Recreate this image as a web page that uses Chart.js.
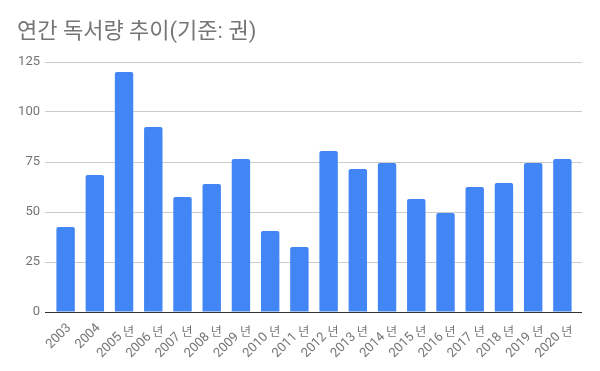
<!DOCTYPE html>
<html>
<head>
<meta charset="utf-8">
<script src="https://cdn.jsdelivr.net/npm/chart.js@4"></script>
<style>
  body { margin: 0; background: #fff; }
</style>
</head>
<body>
<canvas id="readingChart" width="600" height="371"></canvas>
<script>
const years = ["2003", "2004", "2005", "2006", "2007", "2008", "2009", "2010", "2011",
  "2012", "2013", "2014", "2015", "2016", "2017", "2018", "2019", "2020"];
// the year suffix "년" is only shown from 2005 on
const suffixes = ["", "", "년", "년", "년", "년", "년", "년", "년",
  "년", "년", "년", "년", "년", "년", "년", "년", "년"];
const books = [42.5, 68.5, 120, 92.5, 57.5, 64, 76.5, 40.5, 32.5, 80.5, 71.5, 74.5, 56.5, 49.5, 62.5, 64.5, 74.5, 76.5];
const yTicks = [0, 25, 50, 75, 100, 125];

const fontFamily = "Roboto, 'Noto Sans CJK KR', sans-serif";
const textColor = "#757575";
const gridColor = (c) => (c.tick && c.tick.value === 0 ? "#333333" : "#cccccc");

// rotated year labels with an upright "년", like the original
const yearLabels = {
  id: "yearLabels",
  afterDraw(chart) {
    const x = chart.scales.x;
    const c = chart.ctx;
    c.save();
    c.fillStyle = textColor;
    years.forEach((year, i) => {
      const px = x.getPixelForTick(i);
      const hasSuffix = suffixes[i] !== "";
      c.save();
      c.translate(hasSuffix ? px - 4 : px + 3.5, hasSuffix ? 335 : 326);
      c.rotate(-Math.PI / 4);
      c.font = "13px " + fontFamily;
      c.textAlign = "right";
      c.textBaseline = "middle";
      c.fillText(year, 0, 0);
      c.restore();
      if (hasSuffix) {
        c.font = "12px 'Noto Sans CJK KR', sans-serif";
        c.textAlign = "center";
        c.textBaseline = "middle";
        c.fillText(suffixes[i], px + 4.5, 331);
      }
    });
    c.restore();
  },
};

const ctx = document.getElementById("readingChart");
new Chart(ctx, {
  type: "bar",
  data: {
    labels: years.map((y, i) => (suffixes[i] ? y + " " + suffixes[i] : y)),
    datasets: [
      {
        label: "독서량",
        data: books,
        backgroundColor: "#4285f4",
        borderRadius: 2,
        borderSkipped: "bottom",
        categoryPercentage: 0.63,
        barPercentage: 1,
      },
    ],
  },
  options: {
    responsive: false,
    animation: false,
    layout: { padding: { left: 17, right: 18, top: 0, bottom: 0 } },
    plugins: {
      legend: { display: false },
      tooltip: { enabled: false },
      title: {
        display: true,
        text: "연간 독서량 추이(기준: 권)",
        align: "start",
        color: textColor,
        font: { family: fontFamily, size: 22, weight: "normal" },
        padding: { top: 19, bottom: 16.6 },
      },
    },
    scales: {
      y: {
        min: 0,
        max: 125,
        afterBuildTicks: (axis) => {
          axis.ticks = yTicks.map((v) => ({ value: v }));
        },
        afterFit: (axis) => {
          axis.width = 34;
        },
        grid: { color: gridColor, drawTicks: true, tickLength: 6 },
        border: { display: false },
        ticks: {
          color: textColor,
          padding: 5,
          font: { family: fontFamily, size: 13 },
        },
      },
      yRight: {
        position: "right",
        min: 0,
        max: 125,
        afterBuildTicks: (axis) => {
          axis.ticks = yTicks.map((v) => ({ value: v }));
        },
        grid: { color: gridColor, drawOnChartArea: false, drawTicks: true, tickLength: 5 },
        border: { display: false },
        ticks: { display: false },
      },
      x: {
        afterFit: (axis) => {
          axis.height = 59;
        },
        grid: { display: false },
        border: { display: false },
        ticks: { display: false },
      },
    },
  },
  plugins: [yearLabels],
});
</script>
</body>
</html>
